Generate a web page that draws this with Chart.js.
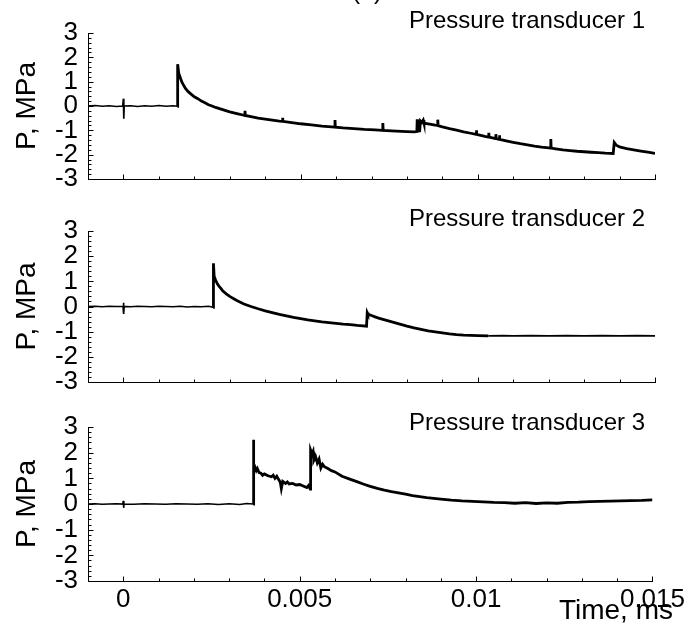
<!DOCTYPE html>
<html>
<head>
<meta charset="utf-8">
<script src="https://cdn.jsdelivr.net/npm/chart.js@4.4.1/dist/chart.umd.min.js"></script>
<style>
  body { margin: 0; background: #fff; width: 688px; height: 627px; overflow: hidden; position: relative; }
  canvas { position: absolute; left: 0; }
</style>
</head>
<body>
<canvas id="c1" width="688" height="206" style="top:0px"></canvas>
<canvas id="c2" width="688" height="208" style="top:200px"></canvas>
<canvas id="c3" width="688" height="227" style="top:400px"></canvas>
<script>
// x axis (time) and y axis (pressure) ticks
const xTickValues = [0, 0.005, 0.01, 0.015];
const xTickLabels = ["0", "0.005", "0.01", "0.015"];
const yTickValues = [-3, -2, -1, 0, 1, 2, 3];

// traces: [time, pressure]
const trace1 = [
  [-0.001, 0.00], [-0.0008, 0.02], [-0.0006, -0.01], [-0.0004, 0.01], [-0.0002, -0.02], [-0.00002, 0.00],
  [0, 0.30], [0.00001, -0.52], [0.00002, 0.00], [0.0002, 0.01], [0.0004, -0.02], [0.0006, 0.01],
  [0.0008, -0.01], [0.001, 0.02], [0.0012, -0.01], [0.0014, 0.01], [0.00152, -0.01],
  [0.00153, 1.72], [0.00156, 1.35], [0.0016, 1.18], [0.00165, 0.98], [0.0017, 0.85], [0.00175, 0.72],
  [0.00182, 0.60], [0.0019, 0.50], [0.002, 0.38], [0.0021, 0.30], [0.0022, 0.20], [0.0023, 0.13],
  [0.0024, 0.05], [0.0025, 0.00], [0.0026, -0.06], [0.0028, -0.15], [0.003, -0.24], [0.0032, -0.31],
  [0.0034, -0.38], [0.00342, -0.39], [0.00343, -0.20], [0.00344, -0.39], [0.0036, -0.44], [0.0038, -0.50],
  [0.004, -0.54], [0.0042, -0.58], [0.0044, -0.62], [0.00448, -0.63], [0.00449, -0.48], [0.0045, -0.63],
  [0.0047, -0.67], [0.005, -0.73], [0.0053, -0.78], [0.0056, -0.83], [0.00596, -0.87], [0.00597, -0.58],
  [0.00598, -0.87], [0.0062, -0.90], [0.0065, -0.93], [0.0068, -0.96], [0.0071, -0.98], [0.00731, -1.00],
  [0.00732, -0.70], [0.00733, -1.00], [0.0077, -1.03], [0.008, -1.05], [0.0082, -1.06], [0.00828, -1.05],
  [0.00829, -0.55], [0.0083, -1.04], [0.00836, -1.02], [0.00838, -0.62], [0.00842, -0.68], [0.00846, -0.58],
  [0.00848, -0.70], [0.0086, -0.73], [0.0088, -0.79], [0.00886, -0.80], [0.00887, -0.56], [0.00888, -0.81],
  [0.009, -0.86], [0.0092, -0.93], [0.0094, -0.99], [0.0096, -1.06], [0.0098, -1.12], [0.00995, -1.17],
  [0.00996, -1.00], [0.00997, -1.17], [0.0102, -1.25], [0.0103, -1.28], [0.01031, -1.10], [0.01032, -1.28],
  [0.0105, -1.34], [0.01051, -1.16], [0.01052, -1.34], [0.0106, -1.37], [0.01061, -1.20], [0.01062, -1.37],
  [0.0108, -1.43], [0.011, -1.49], [0.0112, -1.55], [0.0114, -1.60], [0.0116, -1.65], [0.0118, -1.69],
  [0.012, -1.72], [0.01205, -1.73], [0.01206, -1.36], [0.01207, -1.73], [0.0122, -1.76], [0.0124, -1.80],
  [0.0126, -1.83], [0.0128, -1.86], [0.013, -1.88], [0.0132, -1.90], [0.0134, -1.92], [0.0136, -1.94],
  [0.01382, -1.95], [0.01385, -1.50], [0.0139, -1.60], [0.014, -1.68], [0.0142, -1.75], [0.0144, -1.80],
  [0.0146, -1.85], [0.0148, -1.90], [0.015, -1.95]
];

const trace2 = [
  [-0.001, 0.00], [-0.0008, 0.01], [-0.0006, -0.01], [-0.0004, 0.01], [-0.0002, 0.00], [-0.00001, 0.00],
  [0, 0.15], [0.00001, -0.30], [0.00002, 0.00], [0.0002, -0.01], [0.0004, 0.01], [0.0006, 0.00],
  [0.0008, -0.01], [0.001, 0.01], [0.0012, 0.00], [0.0014, -0.01], [0.0016, 0.01], [0.0018, -0.02],
  [0.002, 0.00], [0.0022, -0.01], [0.0024, 0.01], [0.00253, -0.03],
  [0.00254, 1.72], [0.00256, 1.20], [0.0026, 1.05], [0.00265, 0.90], [0.0027, 0.80], [0.00275, 0.72],
  [0.0028, 0.62], [0.0029, 0.50], [0.003, 0.40], [0.0031, 0.32], [0.0032, 0.24], [0.0033, 0.17],
  [0.0034, 0.10], [0.0036, 0.00], [0.0038, -0.09], [0.004, -0.17], [0.0042, -0.24], [0.0044, -0.31],
  [0.0046, -0.37], [0.0048, -0.43], [0.005, -0.48], [0.0052, -0.53], [0.0054, -0.57], [0.0056, -0.61],
  [0.0058, -0.64], [0.006, -0.67], [0.0062, -0.70], [0.0064, -0.72], [0.0066, -0.75], [0.00686, -0.78],
  [0.00688, -0.24], [0.0069, -0.30], [0.007, -0.36], [0.0071, -0.41], [0.0072, -0.46], [0.0074, -0.54],
  [0.0076, -0.62], [0.0078, -0.70], [0.008, -0.78], [0.0082, -0.85], [0.0084, -0.91], [0.0086, -0.97],
  [0.0088, -1.01], [0.009, -1.05], [0.0092, -1.09], [0.0094, -1.12], [0.0096, -1.14], [0.0098, -1.15],
  [0.01, -1.16], [0.0103, -1.17], [0.0107, -1.16], [0.011, -1.17], [0.0115, -1.16], [0.012, -1.17],
  [0.0125, -1.16], [0.013, -1.17], [0.0135, -1.16], [0.014, -1.17], [0.0145, -1.16], [0.015, -1.17]
];

const trace3 = [
  [-0.001, 0.00], [-0.0008, 0.01], [-0.0006, -0.01], [-0.0004, 0.00], [-0.0002, 0.01], [-0.00001, 0.00],
  [0, 0.12], [0.00001, -0.15], [0.00002, 0.00], [0.0003, -0.01], [0.0006, 0.01], [0.0009, 0.00],
  [0.0012, -0.01], [0.0015, 0.01], [0.0018, 0.00], [0.0021, -0.01], [0.0024, 0.01], [0.0027, -0.02],
  [0.003, 0.01], [0.0033, -0.02], [0.0035, 0.02], [0.00368, 0.00],
  [0.00369, 2.50], [0.0037, 1.25], [0.00373, 1.45], [0.00377, 1.30], [0.0038, 1.38], [0.00385, 1.22],
  [0.0039, 1.20], [0.00395, 1.12], [0.004, 1.17], [0.0041, 1.10], [0.0042, 1.06], [0.00425, 1.12],
  [0.0043, 1.00], [0.00435, 1.08], [0.0044, 0.96], [0.00445, 0.85], [0.00448, 0.60], [0.00452, 0.88],
  [0.0046, 0.80], [0.00465, 0.86], [0.0047, 0.78], [0.0048, 0.80], [0.0049, 0.74], [0.005, 0.76],
  [0.0051, 0.70], [0.0052, 0.64], [0.00525, 0.72], [0.0053, 0.58],
  [0.00531, 2.10], [0.00535, 1.95], [0.00538, 2.05], [0.0054, 1.70], [0.00545, 1.85], [0.0055, 1.60],
  [0.00555, 1.75], [0.0056, 1.40], [0.00565, 1.55], [0.0057, 1.45], [0.0058, 1.38], [0.0059, 1.30],
  [0.006, 1.25], [0.0062, 1.08], [0.0064, 0.98], [0.0066, 0.88], [0.0068, 0.78], [0.007, 0.69],
  [0.0072, 0.61], [0.0074, 0.54], [0.0076, 0.48], [0.0078, 0.43], [0.008, 0.38], [0.0082, 0.33],
  [0.0084, 0.29], [0.0086, 0.25], [0.0088, 0.22], [0.009, 0.19], [0.0093, 0.15], [0.0096, 0.12],
  [0.0099, 0.10], [0.0102, 0.08], [0.0105, 0.06], [0.0108, 0.05], [0.0111, 0.03], [0.0114, 0.05],
  [0.0117, 0.02], [0.012, 0.04], [0.0123, 0.03], [0.0126, 0.06], [0.0129, 0.07], [0.0132, 0.09],
  [0.0135, 0.10], [0.0138, 0.11], [0.0141, 0.12], [0.0144, 0.13], [0.0147, 0.14], [0.015, 0.16]
];

Chart.defaults.font.family = "'Liberation Sans', Arial, sans-serif";
Chart.defaults.color = "#000";

const TEXT_FONT = "'Liberation Sans', Arial, sans-serif";

// axis lines + inward ticks + free text
const panelDecor = {
  id: "panelDecor",
  afterDraw(chart, args, opts) {
    const { ctx, scales: { x, y }, chartArea } = chart;
    ctx.save();
    ctx.strokeStyle = "#000";
    ctx.lineWidth = 1;
    ctx.beginPath();
    const xl = Math.round(chartArea.left) + 0.5;
    const yb = Math.round(chartArea.bottom) + 0.5;
    ctx.moveTo(xl, Math.round(chartArea.top));
    ctx.lineTo(xl, yb);
    ctx.lineTo(Math.round(chartArea.right) + 1, yb);
    // x ticks every 0.001, long at 0.005
    for (let i = 0; i <= 16; i++) {
      const v = -0.001 + i * 0.001;
      const major = Math.abs(v / 0.005 - Math.round(v / 0.005)) < 1e-6;
      const px = Math.round(x.getPixelForValue(v)) + 0.5;
      ctx.moveTo(px, yb);
      ctx.lineTo(px, yb - (major ? 5 : 3));
    }
    // y ticks every 0.2, long at integers
    for (let i = 0; i <= 30; i++) {
      const v = -3 + i * 0.2;
      const major = Math.abs(v - Math.round(v)) < 1e-6;
      const py = Math.round(y.getPixelForValue(v)) + 0.5;
      ctx.moveTo(xl, py);
      ctx.lineTo(xl + (major ? 5 : 3), py);
    }
    ctx.stroke();
    (opts.texts || []).forEach((t) => {
      ctx.font = t.size + "px " + TEXT_FONT;
      ctx.fillStyle = "#000";
      ctx.textAlign = t.align || "left";
      ctx.textBaseline = "alphabetic";
      ctx.fillText(t.text, t.x, t.y);
    });
    ctx.restore();
  }
};

function makePanel(id, trace, top, xAxisH, showX, noisyFrom, noisyTo, texts) {
  return new Chart(document.getElementById(id), {
    type: "scatter",
    data: {
      datasets: [{
        data: trace.map(([t, p]) => ({ x: t, y: p })),
        showLine: true,
        borderColor: "#000",
        borderWidth: 2,
        pointRadius: 0,
        tension: 0,
        segment: {
          borderWidth: (c) => (c.p0.parsed.x >= noisyFrom && c.p0.parsed.x < noisyTo ? 2.8 : 1.7)
        }
      }]
    },
    options: {
      responsive: false,
      animation: false,
      devicePixelRatio: 1,
      layout: { padding: { top: top, right: 33, left: 0, bottom: 0 } },
      plugins: {
        legend: { display: false },
        tooltip: { enabled: false },
        panelDecor: { texts: texts }
      },
      scales: {
        x: {
          type: "linear",
          min: -0.001,
          max: 0.015,
          grid: { display: false, drawTicks: false },
          border: { display: false },
          afterBuildTicks: (s) => { s.ticks = xTickValues.map((v) => ({ value: v })); },
          ticks: {
            display: showX,
            padding: 3,
            autoSkip: false,
            maxRotation: 0,
            font: { size: 26 },
            callback: (v) => xTickLabels[xTickValues.indexOf(v)]
          },
          afterFit: (s) => { s.height = xAxisH; }
        },
        y: {
          min: -3,
          max: 3,
          grid: { display: false, drawTicks: false },
          border: { display: false },
          afterBuildTicks: (s) => { s.ticks = yTickValues.map((v) => ({ value: v })); },
          ticks: { padding: 10, autoSkip: false, font: { size: 26 }, callback: (v) => String(v) },
          title: { display: true, text: "P, MPa", font: { size: 28 }, padding: { top: 10, bottom: 0 } },
          afterFit: (s) => { s.width = 88; }
        }
      }
    },
    plugins: [panelDecor]
  });
}

makePanel("c1", trace1, 33, 27, false, 0.00152, 0.016, [
  { text: "(a)", x: 367, y: -1, size: 25, align: "center" },
  { text: "Pressure transducer 1", x: 645, y: 28, size: 24, align: "right" }
]);
makePanel("c2", trace2, 31, 26, false, 0.00253, 0.0102, [
  { text: "Pressure transducer 2", x: 645, y: 26, size: 24, align: "right" }
]);
makePanel("c3", trace3, 27, 46, true, 0.00368, 0.016, [
  { text: "Pressure transducer 3", x: 645, y: 30, size: 24, align: "right" },
  { text: "Time, ms", x: 673, y: 219, size: 28, align: "right" }
]);
</script>
</body>
</html>
